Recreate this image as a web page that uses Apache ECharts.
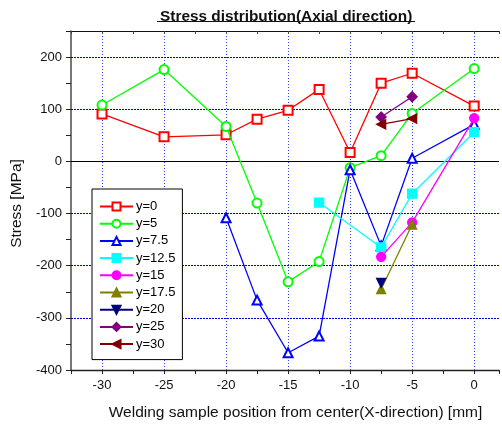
<!DOCTYPE html>
<html><head><meta charset="utf-8">
<script src="https://cdn.jsdelivr.net/npm/echarts@6/dist/echarts.min.js"></script>
<style>html,body{margin:0;padding:0;background:#fff}#c{width:502px;height:426px}</style>
</head><body><div id="c"></div>
<script>
const titleText = 'Stress distribution(Axial direction)';
const xName = 'Welding sample position from center(X-direction) [mm]';
const yName = 'Stress [MPa]';
const seriesNames = ['y=0','y=5','y=7.5','y=12.5','y=15','y=17.5','y=20','y=25','y=30'];
const x_y0 = [-30,-25,-20,-17.5,-15,-12.5,-10,-7.5,-5,0];
const v_y0 = [91,47,51,81,98,138,17,150,169,106];
const x_y5 = [-30,-25,-20,-17.5,-15,-12.5,-10,-7.5,-5,0];
const v_y5 = [108,176,67,-80,-231,-192,-12,11,92,178];
const x_y7_5 = [-20,-17.5,-15,-12.5,-10,-7.5,-5,0];
const v_y7_5 = [-108,-266,-367,-335,-16,-162,6,71];
const x_y12_5 = [-12.5,-7.5,-5,0];
const v_y12_5 = [-79,-165,-62,56];
const x_y15 = [-7.5,-5,0];
const v_y15 = [-183,-117,83];
const x_y17_5 = [-7.5,-5];
const v_y17_5 = [-245,-121];
const x_y20 = [-7.5];
const v_y20 = [-233];
const x_y25 = [-7.5,-5];
const v_y25 = [85,124];
const x_y30 = [-7.5,-5];
const v_y30 = [71,82];
const xGrid = [-30,-25,-20,-15,-10,-5,0];
const yGrid = [200,100,-100,-200,-300];

const xs = [x_y0,x_y5,x_y7_5,x_y12_5,x_y15,x_y17_5,x_y20,x_y25,x_y30];
const vs = [v_y0,v_y5,v_y7_5,v_y12_5,v_y15,v_y17_5,v_y20,v_y25,v_y30];
const styles = [
  {c:'#ff0000', s:'emptyRect', r:0},
  {c:'#00ff00', s:'emptyCircle', r:0},
  {c:'#0000ff', s:'emptyTriangle', r:0},
  {c:'#00ffff', s:'rect', r:0},
  {c:'#ff00ff', s:'circle', r:0},
  {c:'#808000', s:'triangle', r:0},
  {c:'#000080', s:'triangle', r:180},
  {c:'#800080', s:'diamond', r:0},
  {c:'#800000', s:'triangle', r:90}
];
const font = 'Arial, "Liberation Sans", sans-serif';

const series = [{
  type:'line', name:'_grid', data:[], z:1, silent:true,
  markLine:{
    silent:true, symbol:'none', animation:false, z:1,
    label:{show:false},
    data:[
      ...xGrid.map(v=>({xAxis:v, lineStyle:{color:'#3344ff', type:[1,2], width:1}})),
      ...yGrid.map(v=>({yAxis:v, lineStyle:{color:'#0000dd', type:[2,1], width:1.2}})),
      {yAxis:0, lineStyle:{color:'#000', type:'solid', width:1.2}}
    ]
  }
}];
seriesNames.forEach((n,i)=>{
  const st = styles[i];
  series.push({
    type:'line', name:n,
    data: xs[i].map((x,j)=>[x, vs[i][j]]),
    symbol: st.s, symbolRotate: st.r, symbolSize: st.s==='diamond'?10:9,
    showAllSymbol:true,
    lineStyle:{color:st.c, width:1.3},
    itemStyle:{color:st.c, borderColor:st.c, borderWidth:1.3},
    z:3+i, animation:false
  });
});

const chart = echarts.init(document.getElementById('c'), null, {renderer:'canvas'});
chart.setOption({
  animation:false,
  backgroundColor:'#fff',
  title:{text:titleText, left:155, top:4, textStyle:{fontFamily:font, fontSize:15.4, fontWeight:'bold', color:'#111'}},
  graphic:[{type:'line', shape:{x1:157, y1:21.5, x2:415, y2:21.5}, style:{stroke:'#111', lineWidth:1.2}}],
  grid:{left:71, top:31, right:0, bottom:56, containLabel:false},
  legend:{
    data:seriesNames, orient:'vertical', left:92, top:189,
    backgroundColor:'#fff', borderColor:'#000', borderWidth:1, borderRadius:0,
    padding:[11,7,9,7], itemGap:4.2, itemWidth:33, itemHeight:10,
    textStyle:{fontFamily:font, fontSize:13, color:'#000', padding:[0,0,0,-2]}
  },
  xAxis:[{
    type:'value', min:-32.5, max:2.0, interval:2.5, position:'bottom',
    name:xName, nameLocation:'middle', nameGap:35,
    nameTextStyle:{fontFamily:font, fontSize:15.5, color:'#111', padding:[0,0,0,21]},
    axisLine:{show:true, onZero:false, lineStyle:{color:'#222', width:1.3}},
    axisTick:{show:true, inside:false, length:4, lineStyle:{color:'#222'}},
    axisLabel:{fontFamily:font, fontSize:13, color:'#111', margin:9,
      formatter:v=> (Math.abs(v%5)<1e-6 ? String(v) : '')},
    splitLine:{show:false}
  },{
    type:'value', min:-32.5, max:2.0, interval:2.5, position:'top',
    axisLine:{show:true, onZero:false, lineStyle:{color:'#111', width:1.2}},
    axisTick:{show:true, inside:true, length:3, lineStyle:{color:'#444'}},
    axisLabel:{show:false}, splitLine:{show:false}
  }],
  yAxis:{
    type:'value', min:-400, max:250, interval:50,
    name:yName, nameLocation:'middle', nameGap:41, nameRotate:90,
    nameTextStyle:{fontFamily:font, fontSize:15.5, color:'#111', padding:[0,0,0,-6]},
    axisLine:{show:true, onZero:false, lineStyle:{color:'#555', width:1.6}},
    axisTick:{show:true, inside:false, length:5, lineStyle:{color:'#222'}},
    axisLabel:{fontFamily:font, fontSize:13, color:'#111', margin:9,
      formatter:v=> (v%100===0 ? String(v) : '')},
    splitLine:{show:false}
  },
  series:series
});
</script></body></html>
